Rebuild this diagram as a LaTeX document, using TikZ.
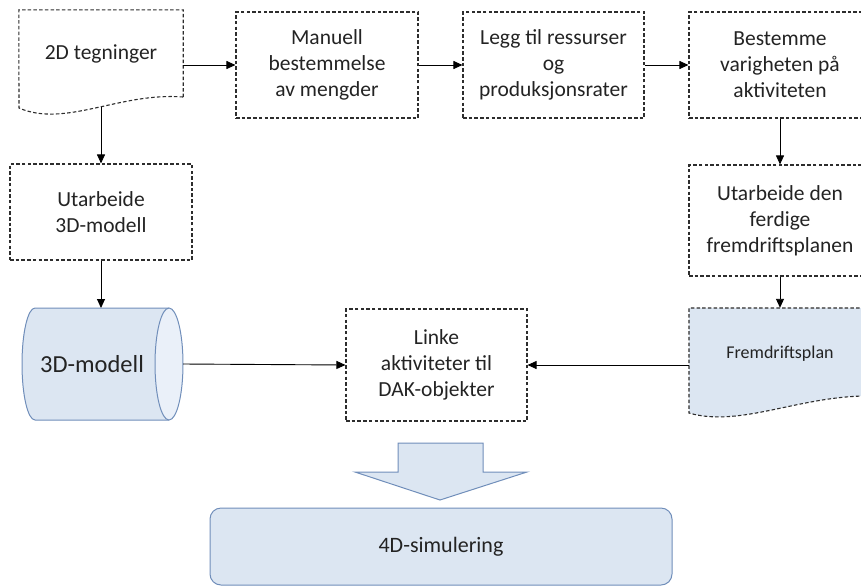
\documentclass[tikz,border=0pt]{standalone}
\usepackage{fontspec}
\setmainfont{Carlito}
\usetikzlibrary{arrows.meta}
\definecolor{boxfill}{RGB}{220,230,242}
\definecolor{boxedge}{RGB}{112,142,186}
\definecolor{capfill}{RGB}{234,240,249}
\definecolor{dashcol}{RGB}{45,45,45}
\definecolor{txt}{RGB}{35,35,35}
\tikzset{
  dashline/.style={draw=dashcol, line width=1.1pt, dash pattern=on 3.5pt off 2.2pt},
  stepbox/.style={dashline, text=txt, align=center, inner sep=0pt,
    font=\fontsize{21.5}{26}\selectfont, minimum width=182pt},
  plain/.style={text=txt, align=center, inner sep=0pt},
  solidshape/.style={fill=boxfill, draw=boxedge, line width=1pt},
  flow/.style={draw=black, line width=0.9pt, -{Triangle[length=9pt,width=8pt]}},
}
\begin{document}
\begin{tikzpicture}[x=1pt,y=-1pt]
\useasboundingbox (0,0) rectangle (861,587);
\clip (0,0) rectangle (861,587);

% top row
\node[plain, font=\fontsize{21.5}{26}\selectfont, minimum width=164pt, minimum height=87pt]
  (d2) at (101,53.5) {2D tegninger};
\draw[dashline] (d2.south east) -- (d2.north east) -- (d2.north west) -- (19,108)
  .. controls (65,128) and (120,92) .. (183,97);
\coordinate (d2b) at (101,107);

\node[stepbox, minimum height=106pt] (man) at (327,65) {Manuell\\bestemmelse\\av mengder};
\node[stepbox, minimum width=181pt, minimum height=106pt] (legg) at (553.5,65) {Legg til ressurser\\og\\produksjonsrater};
\node[stepbox, minimum height=106pt] (best) at (780,65) {Bestemme\\varigheten på\\aktiviteten};

% second row
\node[stepbox, minimum height=96pt] (utm) at (101,212) {Utarbeide\\3D-modell};
\node[stepbox, minimum height=111pt] (utf) at (780,220.5) {Utarbeide den\\ferdige\\fremdriftsplanen};

% 3D model store (cylinder)
\draw[solidshape] (169,308) -- (35,308)
  arc[start angle=270, end angle=90, x radius=13, y radius=56] -- (169,420);
\draw[fill=capfill, draw=boxedge, line width=1pt] (169,364) ellipse[x radius=14, y radius=56];
\node[plain, font=\fontsize{24.5}{28}\selectfont] (cyl) at (92,364) {3D-modell};
\coordinate (cylT) at (101,308);
\coordinate (cylR) at (183,364);

% linking step
\node[stepbox, minimum width=181pt, minimum height=112pt] (linke) at (436.5,365) {Linke\\aktiviteter til\\DAK-objekter};

% schedule document
\fill[boxfill] (689,308) -- (871,308) -- (871,396)
  .. controls (801,395) and (740,428) .. (689,413) -- cycle;
\draw[dashline] (871,308) -- (689,308) -- (689,413)
  .. controls (740,428) and (801,395) .. (871,396);
\node[plain, font=\fontsize{18}{22}\selectfont, minimum width=182pt, minimum height=92pt]
  (plan) at (780,354) {Fremdriftsplan};

% block arrow and result
\draw[solidshape] (398,443) -- (483,443) -- (483,472) -- (527,472) -- (440,500)
  -- (355,472) -- (398,472) -- cycle;
\node[solidshape, rounded corners=11pt, minimum width=462pt, minimum height=77pt,
  text=txt, font=\fontsize{22}{26}\selectfont] (sim) at (441,546.5) {4D-simulering};

% connectors
\draw[flow] (d2.east |- man.west) -- (man.west);
\draw[flow] (man) -- (legg);
\draw[flow] (legg) -- (best);
\draw[flow] (best) -- (utf);
\draw[flow] (utf) -- (plan);
\draw[flow] (d2b) -- (utm.north);
\draw[flow] (utm.south) -- (cylT);
\draw[flow] (cylR) -- (linke.west);
\draw[flow] (plan.west |- linke.east) -- (linke.east);
\end{tikzpicture}
\end{document}
